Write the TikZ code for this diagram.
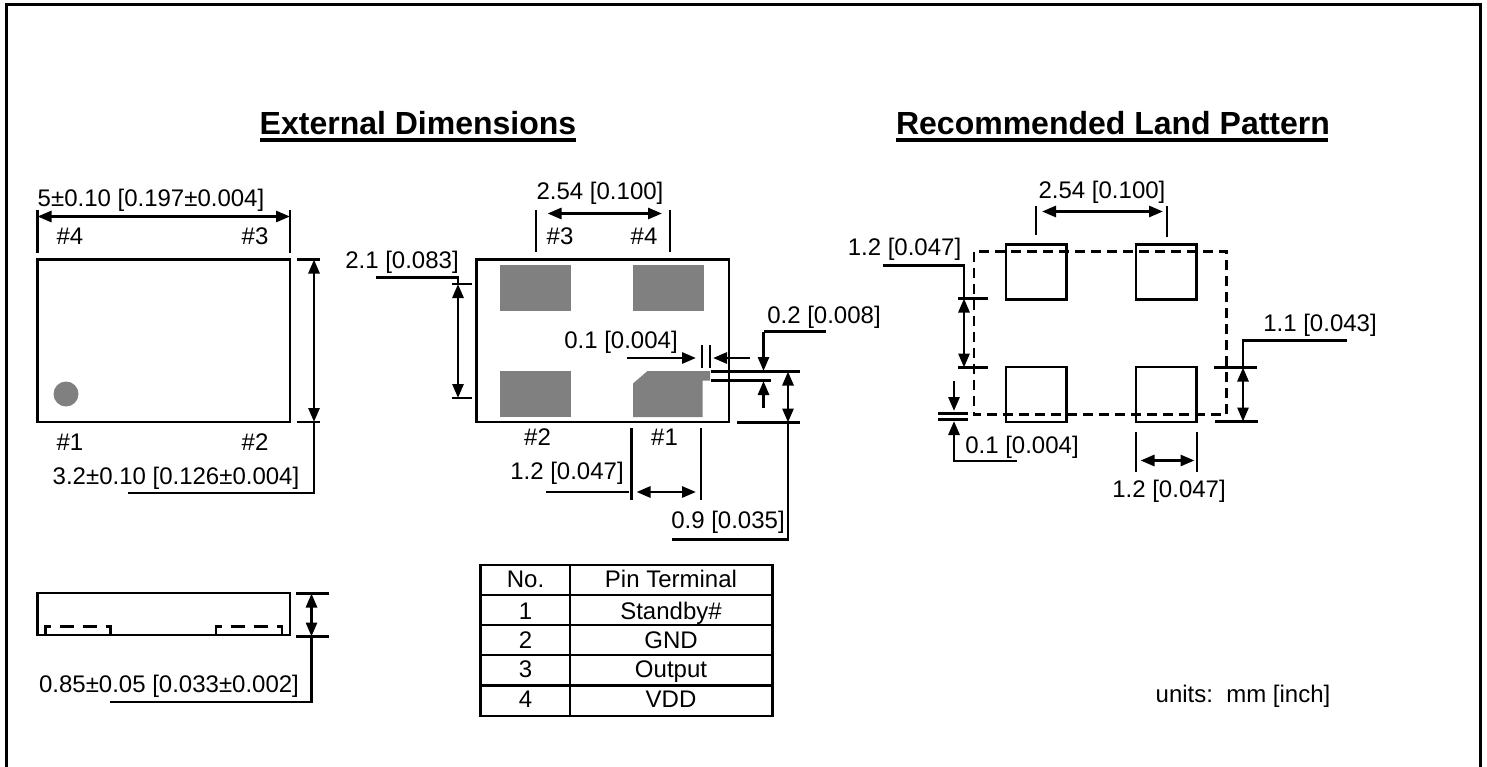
\documentclass[tikz,border=0pt]{standalone}
\usepackage{fontspec}
\setmainfont{Liberation Sans}
\usetikzlibrary{arrows.meta}
\tikzset{
  dimtext/.style={inner sep=0pt, anchor=base, font=\fontsize{24}{24}\selectfont},
  headtext/.style={inner sep=0pt, anchor=base, font=\fontsize{32}{32}\selectfont\bfseries},
  body/.style={line width=2.6pt},
  thin line/.style={line width=2.1pt},
  dimarrow/.style={line width=2.8pt, {Triangle[length=14pt,width=11pt]}-{Triangle[length=14pt,width=11pt]}},
  onearrow/.style={line width=2.8pt, -{Triangle[length=14pt,width=11pt]}},
  dash line/.style={line width=2.1pt, dash pattern=on 10pt off 6pt},
  pad dash/.style={line width=2.1pt, dash pattern=on 14pt off 9pt}
}
\begin{document}
\begin{tikzpicture}[x=1pt, y=-1pt]
  \useasboundingbox (0,0) rectangle (1487,767);
  % frame
  \draw [line width=3pt] (6,767) -- (6,5) -- (1480,5) -- (1480,767);
  % titles
  \node [headtext] (extT) at (418,135) {External Dimensions};
  \node [headtext] (landT) at (1113,135) {Recommended Land Pattern};
  \draw [line width=4pt] (extT.base west) ++(0,5) -- ++(316,0);
  \draw [line width=4pt] (landT.base west) ++(0,5) -- ++(432,0);

  % top view
  \draw [body] (37.5,259.5) rectangle (290,422);
  \fill [black!50] (66,394) circle (12.5);
  \node [dimtext] (topw) at (151,206.5) {5±0.10 [0.197±0.004]};
  \node [dimtext] (p4a) at (70,244.5) {\#4};
  \node [dimtext] (p3a) at (255,244.5) {\#3};
  \node [dimtext] (p1a) at (70,450) {\#1};
  \node [dimtext] (p2a) at (255,450) {\#2};
  \node [dimtext] (toph) at (176,484) {3.2±0.10 [0.126±0.004]};
  \draw [thin line] (37.5,210) -- (37.5,252.5);
  \draw [thin line] (290,210) -- (290,252.5);
  \draw [dimarrow] (37.5,216.5) -- (290,216.5);
  \draw [thin line] (297,259.5) -- (320,259.5);
  \draw [thin line] (297,422) -- (320,422);
  \draw [dimarrow] (314,259.5) -- (314,422);
  \draw [thin line] (314,422) -- (314,493) -- (128,493);

  % side view
  \draw [body] (37.5,593) rectangle (290,635);
  \draw [pad dash] (45.5,635) -- (45.5,626.5) -- (110.5,626.5) -- (110.5,635);
  \draw [pad dash] (216,635) -- (216,626.5) -- (282,626.5) -- (282,635);
  \draw [thin line] (296,593.5) -- (329,593.5);
  \draw [thin line] (296,636.5) -- (329,636.5);
  \draw [dimarrow] (311.5,593.5) -- (311.5,636.5);
  \draw [thin line] (311.5,636.5) -- (311.5,702) -- (110,702);
  \node [dimtext] (sideh) at (169,692.5) {0.85±0.05 [0.033±0.002]};

  % bottom view
  \draw [body] (476.5,259.5) rectangle (729,422);
  \fill [black!50] (500,265) rectangle (571,310.5);
  \fill [black!50] (633,265) rectangle (704,310.5);
  \fill [black!50] (500,371) rectangle (571,417);
  \fill [black!50] (633,383.5) -- (647.5,371) -- (710,371) -- (710,380.5) -- (702.5,380.5) -- (702.5,417) -- (633,417) -- cycle;
  \node [dimtext] (pitch) at (600,199.5) {2.54 [0.100]};
  \node [dimtext] (p3b) at (560,244) {\#3};
  \node [dimtext] (p4b) at (644,244) {\#4};
  \node [dimtext] (p2b) at (537.5,445.5) {\#2};
  \node [dimtext] (p1b) at (664.5,445.5) {\#1};
  \draw [thin line] (536,210) -- (536,252);
  \draw [thin line] (670,210) -- (670,252);
  \draw [dimarrow] (547.5,213.5) -- (662,213.5);
  \node [dimtext] (gapv) at (402,268.5) {2.1 [0.083]};
  \draw [thin line] (376,277.5) -- (458,277.5) -- (458,284);
  \draw [thin line] (451.5,284) -- (471.5,284);
  \draw [thin line] (451.5,398) -- (471.5,398);
  \draw [dimarrow] (458,284) -- (458,398);
  \node [dimtext] (tabh) at (621,348.5) {0.1 [0.004]};
  \draw [onearrow] (627,358) -- (696,358);
  \draw [onearrow] (750,358) -- (713,358);
  \draw [thin line] (702,345) -- (702,368);
  \draw [thin line] (710,345) -- (710,368);
  \node [dimtext] (tabv) at (824,323.5) {0.2 [0.008]};
  \draw [thin line] (825.5,331.5) -- (763.5,331.5);
  \draw [onearrow] (763.5,331.5) -- (763.5,371);
  \draw [thin line] (710.5,371.5) -- (800,371.5);
  \draw [thin line] (710.5,380.5) -- (770.5,380.5);
  \draw [onearrow] (763.5,407.5) -- (763.5,381);
  \draw [thin line] (737,422.5) -- (800,422.5);
  \draw [dimarrow] (788,371.5) -- (788,422.5);
  \draw [thin line] (788,422.5) -- (788,539.5) -- (671.5,539.5);
  \node [dimtext] (padh) at (728,528.5) {0.9 [0.035]};
  \draw [thin line] (631.5,428) -- (631.5,500);
  \draw [thin line] (701,428) -- (701,500);
  \draw [dimarrow] (636.5,492) -- (696,492);
  \draw [thin line] (546,492) -- (628.5,492);
  \node [dimtext] (padw) at (567,479.5) {1.2 [0.047]};

  % pin table
  \draw [body] (480.5,565) rectangle (772.5,716);
  \draw [thin line] (570,565) -- (570,716);
  \foreach \y in {595,625,655,685.5}
    \draw [thin line] (480.5,\y) -- (772.5,\y);
  \node [dimtext] (noH) at (525.5,587) {No.};
  \node [dimtext] (pinH) at (671,587) {Pin Terminal};
  \node [dimtext] (no1) at (525.5,619) {1};
  \node [dimtext] (pin1) at (671,619) {Standby\#};
  \node [dimtext] (no2) at (525.5,648.5) {2};
  \node [dimtext] (pin2) at (671,648.5) {GND};
  \node [dimtext] (no3) at (525.5,677.5) {3};
  \node [dimtext] (pin3) at (671,677.5) {Output};
  \node [dimtext] (no4) at (525.5,707) {4};
  \node [dimtext] (pin4) at (671,707) {VDD};

  % land pattern
  \foreach \px in {1006,1136}
    \foreach \py in {244.5,367}
      \draw [thin line] (\px,\py) rectangle ++(60.5,55);
  \draw [dash line] (974,251.5) rectangle (1226.5,414.5);
  \node [dimtext] (lpitch) at (1102,199) {2.54 [0.100]};
  \draw [thin line] (1036,206) -- (1036,235);
  \draw [thin line] (1167,206) -- (1167,237.5);
  \draw [dimarrow] (1042,211.5) -- (1163,211.5);
  \node [dimtext] (lgap) at (904.5,255.5) {1.2 [0.047]};
  \draw [thin line] (882.5,265.5) -- (964,265.5) -- (964,298.5);
  \draw [thin line] (958,298.5) -- (988,298.5);
  \draw [thin line] (958,367.5) -- (988,367.5);
  \draw [dimarrow] (964,298.5) -- (964,367.5);
  \draw [onearrow] (954,381) -- (954,411);
  \draw [thin line] (938,413.5) -- (968,413.5);
  \draw [thin line] (938,419.5) -- (968,419.5);
  \draw [onearrow] (1016.5,461) -- (954,461) -- (954,421);
  \node [dimtext] (lover) at (1022,453.5) {0.1 [0.004]};
  \node [dimtext] (lpadh) at (1320,331.5) {1.1 [0.043]};
  \draw [thin line] (1347,340.5) -- (1243,340.5) -- (1243,367.5);
  \draw [thin line] (1214,367.5) -- (1257,367.5);
  \draw [thin line] (1215,421.5) -- (1258,421.5);
  \draw [dimarrow] (1243,367.5) -- (1243,421.5);
  \draw [thin line] (1136,431.5) -- (1136,471.5);
  \draw [thin line] (1197,431.5) -- (1197,471.5);
  \draw [dimarrow] (1140.5,460.5) -- (1194.5,460.5);
  \node [dimtext] (lpadw) at (1169,497.5) {1.2 [0.047]};
  \node [dimtext] (units) at (1243,702) {units:\ \ mm [inch]};
\end{tikzpicture}
\end{document}
